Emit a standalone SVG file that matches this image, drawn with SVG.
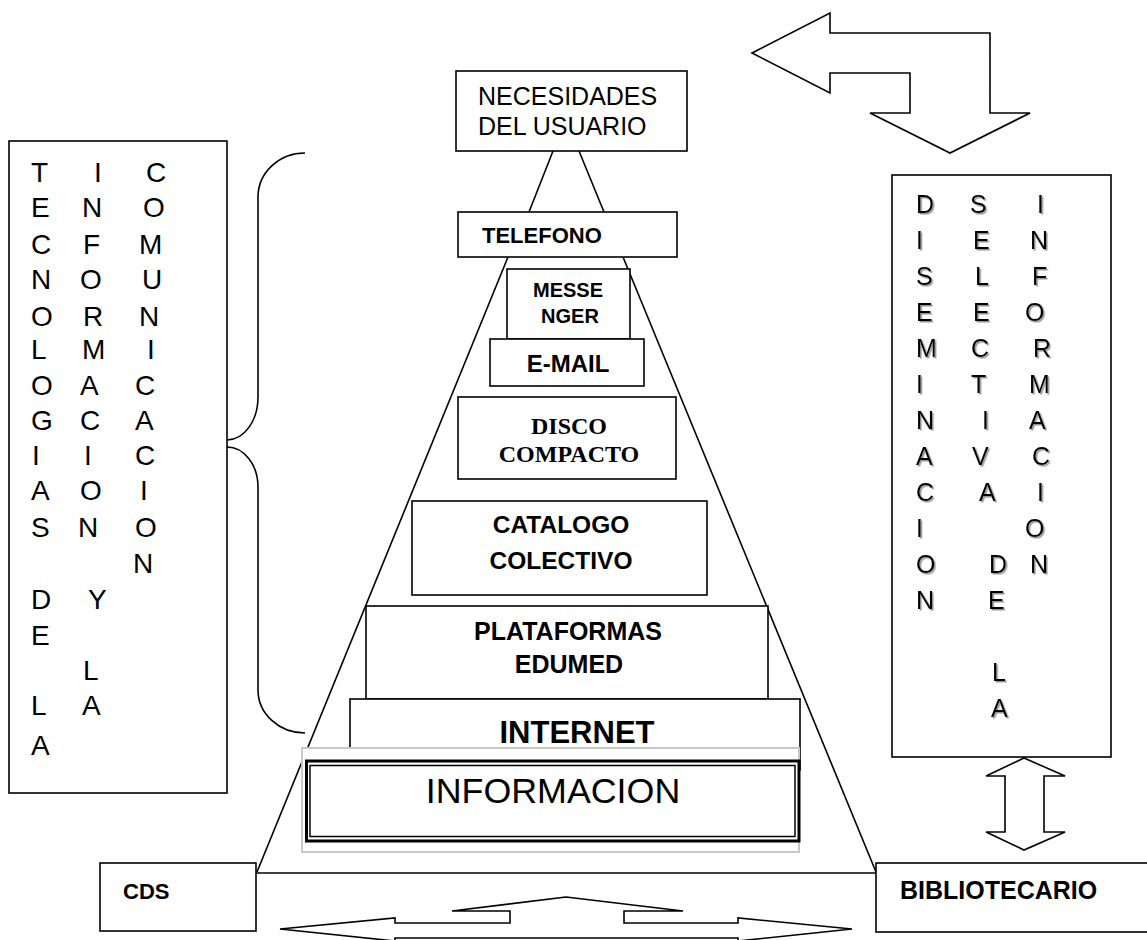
<svg xmlns="http://www.w3.org/2000/svg" width="1147" height="940" viewBox="0 0 1147 940">
<defs>
<filter id="sh" x="-20%" y="-20%" width="150%" height="150%">
<feDropShadow dx="1.5" dy="1.5" stdDeviation="0.6" flood-color="#888" flood-opacity="0.9"/>
</filter>
</defs>
<style>
.box{fill:#fff;stroke:#000;stroke-width:1.6}
.ln{fill:none;stroke:#000;stroke-width:1.6}
.arr{fill:#fff;stroke:#000;stroke-width:1.6;stroke-linejoin:miter}
.t{font-family:"Liberation Sans",Arial,sans-serif;fill:#000}
.b{font-weight:bold}
.tm{font-family:"Liberation Serif","Times New Roman",serif;font-weight:bold;fill:#000}
.tic{font-family:"Liberation Sans",Arial,sans-serif;font-size:28px;fill:#000}
.dsi{font-family:"Liberation Sans",Arial,sans-serif;font-size:25px;fill:#000;filter:url(#sh)}
</style>
<rect width="1147" height="940" fill="#fff"/>

<g id="connectors">
  <line class="ln" x1="553" y1="151" x2="529" y2="212"/>
  <line class="ln" x1="579" y1="151" x2="604" y2="212"/>
  <line class="ln" x1="508" y1="257" x2="257" y2="872"/>
  <line class="ln" x1="623" y1="257" x2="876" y2="872"/>
  <line class="ln" x1="256" y1="873" x2="876" y2="873"/>
  <path class="ln" d="M305,153 A47,44 0 0 0 258,197 L258,397 A31,43 0 0 1 227,440 M227,447 A31,40 0 0 1 258,487 L258,690 A47,43 0 0 0 305,733"/>
  <polygon class="arr" points="752,53 830,13 830,33 990,33 990,113 1030,113 950,153 870,113 910,113 910,73 830,73 830,93"/>
  <polygon class="arr" points="1024,758 1065,776 1044,776 1044,832 1065,832 1024,850 986,832 1005,832 1005,776 986,776"/>
  <polygon class="arr" points="280,929 395,918 395,923 510,923 510,911 452,911 566,897 683,911 624,911 624,923 738,923 738,918 852,929 738,941 738,938 395,938 395,941"/>
</g>

<g id="necesidades">
  <rect class="box" x="456" y="71" width="231" height="80"/>
  <text class="t" x="478" y="105" font-size="25">NECESIDADES</text>
  <text class="t" x="478" y="135" font-size="25">DEL USUARIO</text>
</g>

<g id="telefono">
  <rect class="box" x="458" y="212" width="219" height="45"/>
  <text class="t b" x="482" y="243" font-size="22">TELEFONO</text>
</g>

<g id="messenger">
  <rect class="box" x="507" y="269" width="123" height="70"/>
  <text class="t b" x="568" y="297" font-size="20" text-anchor="middle">MESSE</text>
  <text class="t b" x="570" y="323" font-size="20" text-anchor="middle">NGER</text>
</g>

<g id="email">
  <rect class="box" x="490" y="339" width="154" height="47"/>
  <text class="t b" x="568" y="372" font-size="24" text-anchor="middle">E-MAIL</text>
</g>

<g id="disco">
  <rect class="box" x="458" y="397" width="218" height="82"/>
  <text class="tm" x="569" y="434" font-size="24" text-anchor="middle">DISCO</text>
  <text class="tm" x="569" y="462" font-size="24" text-anchor="middle">COMPACTO</text>
</g>

<g id="catalogo">
  <rect class="box" x="412" y="501" width="295" height="94"/>
  <text class="t b" x="561" y="533" font-size="24.5" text-anchor="middle">CATALOGO</text>
  <text class="t b" x="561" y="569" font-size="24.5" text-anchor="middle">COLECTIVO</text>
</g>

<g id="plataformas">
  <rect class="box" x="366" y="606" width="402" height="93"/>
  <text class="t b" x="568" y="640" font-size="25" text-anchor="middle">PLATAFORMAS</text>
  <text class="t b" x="569" y="673" font-size="25" text-anchor="middle">EDUMED</text>
</g>

<g id="internet">
  <rect class="box" x="350" y="699" width="450" height="71"/>
  <text class="t b" x="577" y="743" font-size="31" text-anchor="middle">INTERNET</text>
</g>

<g id="informacion">
  <rect x="302" y="748" width="497" height="104" fill="#fff" stroke="#c8c8c8" stroke-width="2"/>
  <rect x="306.5" y="761" width="492.5" height="80" fill="none" stroke="#000" stroke-width="3"/>
  <rect x="310" y="765.5" width="485" height="71" fill="none" stroke="#000" stroke-width="1.5"/>
  <text class="t" x="553" y="803" font-size="35.8" text-anchor="middle">INFORMACION</text>
</g>

<g id="cds">
  <rect class="box" x="100" y="863" width="156" height="68"/>
  <text class="t b" x="123" y="899" font-size="22">CDS</text>
</g>

<g id="bibliotecario">
  <rect class="box" x="876" y="863" width="272" height="69"/>
  <text class="t b" x="900" y="899" font-size="25">BIBLIOTECARIO</text>
</g>

<g id="tic">
  <rect class="box" x="9" y="141" width="218" height="652"/>
  <text class="tic" x="31" y="182">T</text>
  <text class="tic" x="31" y="217">E</text>
  <text class="tic" x="31" y="254">C</text>
  <text class="tic" x="31" y="289">N</text>
  <text class="tic" x="31" y="326">O</text>
  <text class="tic" x="31" y="359">L</text>
  <text class="tic" x="31" y="395">O</text>
  <text class="tic" x="31" y="430">G</text>
  <text class="tic" x="32" y="465">I</text>
  <text class="tic" x="31" y="500">A</text>
  <text class="tic" x="31" y="537">S</text>
  <text class="tic" x="31" y="609">D</text>
  <text class="tic" x="31" y="645">E</text>
  <text class="tic" x="31" y="715">L</text>
  <text class="tic" x="31" y="755">A</text>
  <text class="tic" x="94" y="182">I</text>
  <text class="tic" x="82" y="217">N</text>
  <text class="tic" x="83" y="254">F</text>
  <text class="tic" x="80" y="289">O</text>
  <text class="tic" x="83" y="326">R</text>
  <text class="tic" x="82" y="359">M</text>
  <text class="tic" x="80" y="395">A</text>
  <text class="tic" x="80" y="430">C</text>
  <text class="tic" x="84" y="465">I</text>
  <text class="tic" x="80" y="500">O</text>
  <text class="tic" x="78" y="537">N</text>
  <text class="tic" x="88" y="609">Y</text>
  <text class="tic" x="83" y="680">L</text>
  <text class="tic" x="82" y="715">A</text>
  <text class="tic" x="146" y="182">C</text>
  <text class="tic" x="143" y="217">O</text>
  <text class="tic" x="139" y="254">M</text>
  <text class="tic" x="142" y="289">U</text>
  <text class="tic" x="139" y="326">N</text>
  <text class="tic" x="147" y="359">I</text>
  <text class="tic" x="135" y="395">C</text>
  <text class="tic" x="135" y="430">A</text>
  <text class="tic" x="135" y="465">C</text>
  <text class="tic" x="140" y="500">I</text>
  <text class="tic" x="135" y="537">O</text>
  <text class="tic" x="133" y="573">N</text>
</g>

<g id="dsi">
  <rect class="box" x="892" y="175" width="219" height="582"/>
  <text class="dsi" x="916" y="213">D</text>
  <text class="dsi" x="916" y="249">I</text>
  <text class="dsi" x="916" y="285">S</text>
  <text class="dsi" x="916" y="321">E</text>
  <text class="dsi" x="916" y="357">M</text>
  <text class="dsi" x="916" y="393">I</text>
  <text class="dsi" x="916" y="429">N</text>
  <text class="dsi" x="916" y="465">A</text>
  <text class="dsi" x="916" y="501">C</text>
  <text class="dsi" x="916" y="537">I</text>
  <text class="dsi" x="916" y="573">O</text>
  <text class="dsi" x="916" y="609">N</text>
  <text class="dsi" x="970" y="213">S</text>
  <text class="dsi" x="973" y="249">E</text>
  <text class="dsi" x="975" y="285">L</text>
  <text class="dsi" x="973" y="321">E</text>
  <text class="dsi" x="971" y="357">C</text>
  <text class="dsi" x="971" y="393">T</text>
  <text class="dsi" x="982" y="429">I</text>
  <text class="dsi" x="972" y="465">V</text>
  <text class="dsi" x="979" y="501">A</text>
  <text class="dsi" x="989" y="573">D</text>
  <text class="dsi" x="988" y="609">E</text>
  <text class="dsi" x="992" y="681">L</text>
  <text class="dsi" x="991" y="717">A</text>
  <text class="dsi" x="1037" y="213">I</text>
  <text class="dsi" x="1030" y="249">N</text>
  <text class="dsi" x="1032" y="285">F</text>
  <text class="dsi" x="1025" y="321">O</text>
  <text class="dsi" x="1033" y="357">R</text>
  <text class="dsi" x="1029" y="393">M</text>
  <text class="dsi" x="1029" y="429">A</text>
  <text class="dsi" x="1032" y="465">C</text>
  <text class="dsi" x="1037" y="501">I</text>
  <text class="dsi" x="1025" y="537">O</text>
  <text class="dsi" x="1030" y="573">N</text>
</g>
</svg>
